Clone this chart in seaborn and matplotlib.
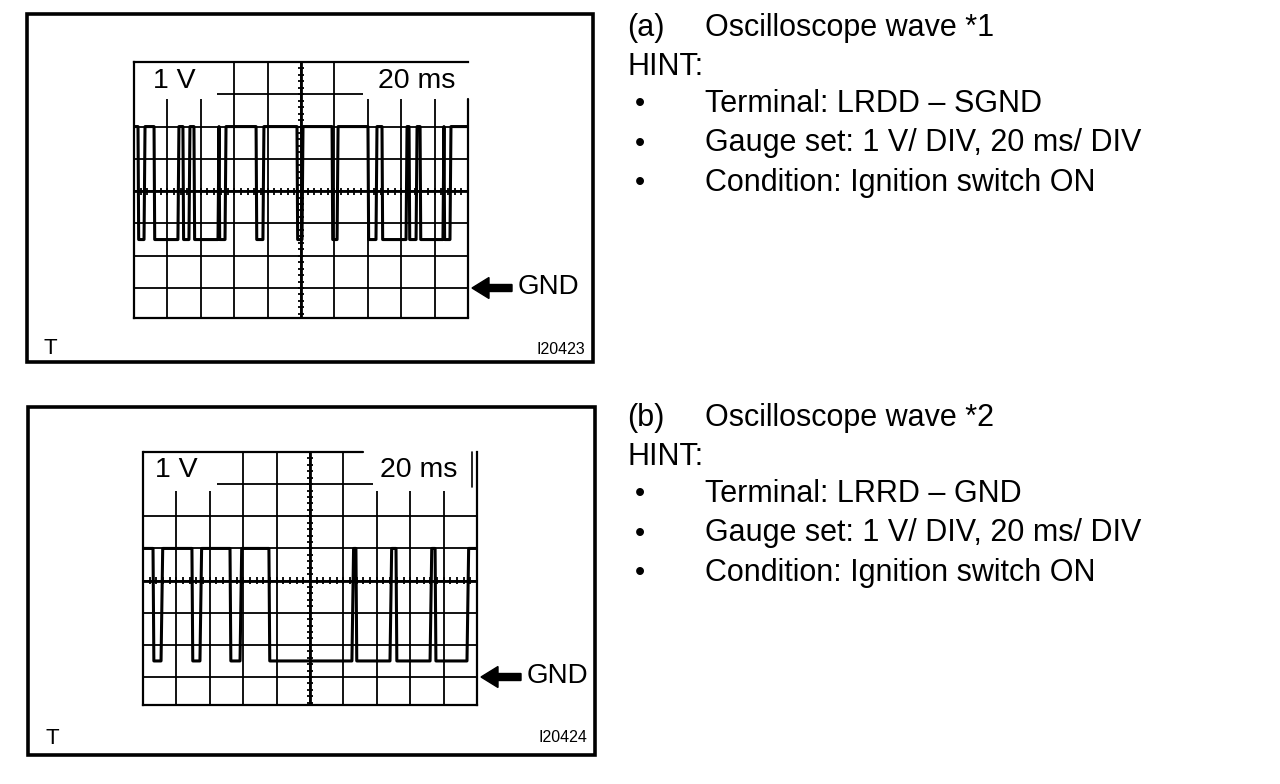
import numpy as np
import pandas as pd
import matplotlib
matplotlib.use("Agg")
import matplotlib.pyplot as plt
import seaborn as sns
from matplotlib.patches import Rectangle, FancyArrow
from matplotlib.transforms import IdentityTransform

# ---------------- data ----------------
time_grid = list(range(0, 201, 20))      # ms, 20 ms / DIV
volt_grid = list(range(0, 7))            # V, 1 V / DIV (GND = 0)

# wave *1 (LRDD - SGND): high / low levels and low-pulse intervals (ms)
a_high, a_low = 5.0, 1.5
a_low_start = [2.4, 12.0, 29.3, 35.9, 50.9, 73.1, 97.6, 118.6, 140.1, 148.5, 164.7, 171.3, 185.6]
a_low_end   = [6.0, 26.3, 32.9, 50.3, 54.5, 77.2, 100.6, 121.6, 144.9, 162.9, 168.9, 185.0, 189.2]

# wave *2 (LRRD - GND)
b_high, b_low = 4.0, 0.5
b_low_start = [6.0, 29.3, 52.1, 75.4, 127.5, 151.5, 174.9]
b_low_end   = [10.8, 34.1, 58.1, 125.1, 147.9, 171.9, 194.0]

hint_a = ["Terminal: LRDD – SGND", "Gauge set: 1 V/ DIV, 20 ms/ DIV", "Condition: Ignition switch ON"]
hint_b = ["Terminal: LRRD – GND", "Gauge set: 1 V/ DIV, 20 ms/ DIV", "Condition: Ignition switch ON"]

# ---------------- figure ----------------
W, H = 1280, 784
sns.set_style("white")
plt.rcParams['font.family'] = ['Liberation Sans', 'DejaVu Sans']

fig = plt.figure(figsize=(12.8, 7.84), dpi=100)
fig.patch.set_facecolor('white')


def fx(x):
    return x / W


def fy(y):
    return 1 - y / H


def trace(starts, ends, hi, lo, fall, rise):
    t = [0.0]
    v = [hi]
    for s, e in zip(starts, ends):
        t += [s, s + fall, e, e + rise]
        v += [hi, lo, lo, hi]
    t.append(200.0)
    v.append(hi)
    return pd.DataFrame({"t": t, "v": v})


def scope(box_px, ylim, df, boxes, variant):
    x0, y0, x1, y1 = box_px
    ax = fig.add_axes([fx(x0), fy(y1), (x1 - x0) / W, (y1 - y0) / H])
    ax.set_xlim(0, 200)
    ax.set_ylim(*ylim)
    ax.set_xticks(time_grid[1:-1])
    ax.set_yticks(volt_grid)
    ax.set_axisbelow(True)
    ax.grid(True, color="black", lw=1.3)
    ax.tick_params(length=0, labelbottom=False, labelleft=False)
    ax.axvline(100, color="black", lw=2.0, zorder=0.6)
    ax.axhline(3, color="black", lw=2.0, zorder=0.6)
    # centre graticule ticks
    vt = 3 + 0.2 * np.arange(-20, 21)
    vt = vt[(vt > ylim[0]) & (vt < ylim[1])]
    ax.hlines(vt, 98, 102, color="black", lw=1.3, zorder=0.7)
    tt = np.arange(4, 200, 4)
    ax.vlines(tt, 2.89, 3.11, color="black", lw=1.3, zorder=0.7)
    # label boxes
    for (t0, t1, v0) in boxes:
        ax.add_patch(Rectangle((t0, v0), t1 - t0, ylim[1] - v0, facecolor="white",
                               edgecolor="none", zorder=1))
    for s in ax.spines.values():
        s.set_color("black")
        s.set_linewidth(1.6)
    if variant == "a":
        ax.spines["right"].set_visible(False)
        ax.plot([200, 200], [ylim[0], 5.85], color="black", lw=1.6, clip_on=False, zorder=2.5)
    else:
        ax.spines["top"].set_visible(False)
        ax.plot([0, 132], [7, 7], color="black", lw=1.6, clip_on=False, zorder=2.5)
        ax.plot([197, 197], [5.9, 7], color="black", lw=1.2, clip_on=False, zorder=2.5)
    sns.lineplot(data=df, x="t", y="v", sort=False, estimator=None, color="black",
                 lw=2.2, ax=ax, zorder=3)
    ax.set_xlabel("")
    ax.set_ylabel("")
    return ax


df_a = trace(a_low_start, a_low_end, a_high, a_low, 0.4, 0.6)
df_b = trace(b_low_start, b_low_end, b_high, b_low, 0.5, 1.0)

scope((134, 62, 468, 318), (-0.93, 7.0), df_a,
      [(0, 49.7, 5.85), (137, 200, 5.85)], "a")
scope((143, 452, 477, 705), (-0.87, 7.0), df_b,
      [(0, 44.3, 5.8), (137.7, 200, 5.8)], "b")

# outer frames
for (x0, y0, x1, y1) in [(27, 14, 593, 362), (28, 407, 595, 755)]:
    fig.add_artist(Rectangle((fx(x0), fy(y1)), (x1 - x0) / W, (y1 - y0) / H,
                             transform=fig.transFigure, fill=False,
                             edgecolor="black", lw=2.6))


def ptext(x, y, s, size, ha="left", va="center", weight="normal"):
    fig.text(fx(x), fy(y), s, fontsize=size, ha=ha, va=va, color="black",
             fontweight=weight)


# scope labels
ptext(153, 81, "1 V", 20.5)
ptext(378, 81, "20 ms", 20.5)
ptext(155, 470, "1 V", 20.5)
ptext(380, 470, "20 ms", 20.5)

ptext(43, 349, "T", 16)
ptext(585, 349, "I20423", 11.5, ha="right")
ptext(45, 738, "T", 16)
ptext(587, 738, "I20424", 11.5, ha="right")

# GND arrows
for (xt, xe, y, xl) in [(472, 512, 288, 518), (481, 521, 677, 527)]:
    fig.add_artist(FancyArrow(xe, H - y, xt - xe, 0, width=7, head_width=21,
                              head_length=17, length_includes_head=True,
                              transform=IdentityTransform(), color="black"))
    ptext(xl, y - 1, "GND", 20)

# hints
for (y0, tag, title, lines) in [(27, "(a)", "Oscilloscope wave *1", hint_a),
                                (417, "(b)", "Oscilloscope wave *2", hint_b)]:
    ptext(627, y0 + 1, tag, 22)
    ptext(705, y0 + 1, title, 22)
    ptext(627, y0 + 40, "HINT:", 22)
    for i, line in enumerate(lines):
        yy = y0 + 77 + 39.5 * i
        ptext(635, yy, "•", 21)
        ptext(705, yy, line, 22)

fig.savefig("out.png", dpi=100, facecolor="white")
